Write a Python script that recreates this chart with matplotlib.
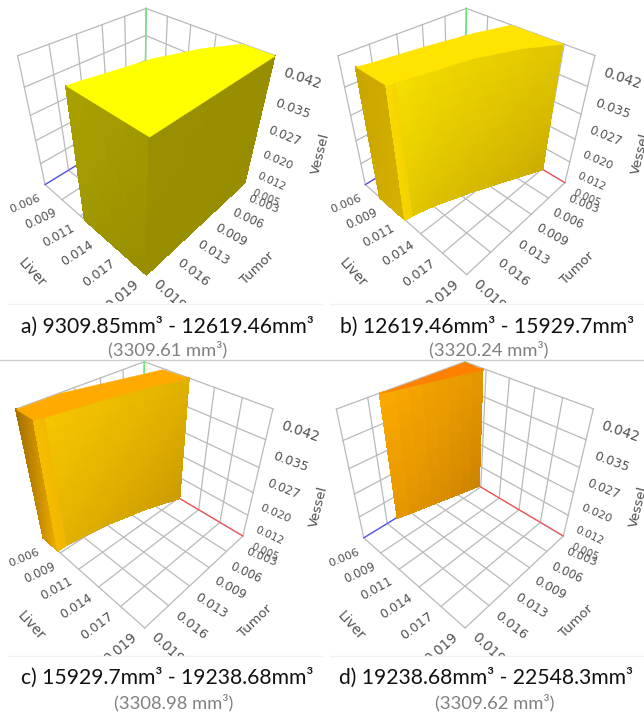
# Four views of the same liver / tumor / vessel space, one volume band per panel
import numpy as np
import matplotlib
matplotlib.use("Agg")
import matplotlib.pyplot as plt
from matplotlib.transforms import Bbox
from mpl_toolkits.mplot3d import proj3d
from mpl_toolkits.mplot3d.art3d import Poly3DCollection

W, H = 644, 715

liver_ticks = [0.0063, 0.00886, 0.01142, 0.01398, 0.01654, 0.0191]
tumor_ticks = [0.0031, 0.0063, 0.0094, 0.0126, 0.0157, 0.0189]
vessel_ticks = [0.005, 0.0124, 0.0198, 0.0272, 0.0346, 0.042]

# iso-volume curves (top at vessel max, floor at vessel min)
c1_top_liver = [0.0119, 0.0120, 0.0125, 0.0132, 0.0147, 0.0164]
c1_top_tumor = [0.0189, 0.0180, 0.0152, 0.0111, 0.0065, 0.0031]
c1_floor_liver = [0.0120, 0.0121, 0.0126, 0.0138, 0.0152, 0.0166]
c1_floor_tumor = [0.0189, 0.0179, 0.0155, 0.0114, 0.0072, 0.0031]
c2_top_liver = [0.0085, 0.0087, 0.0094, 0.0103, 0.0114]
c2_top_tumor = [0.0189, 0.0179, 0.0127, 0.0074, 0.0031]
c2_floor_liver = [0.0085, 0.0085, 0.0091, 0.0102, 0.0115]
c2_floor_tumor = [0.0189, 0.0176, 0.0127, 0.0074, 0.0031]
c3_top_liver = [0.0063, 0.0086]
c3_top_tumor = [0.0144, 0.0033]
c3_floor_liver = [0.0064, 0.0086]
c3_floor_tumor = [0.0143, 0.0031]

captions = ["a) 9309.85mm³ - 12619.46mm³", "b) 12619.46mm³ - 15929.7mm³",
            "c) 15929.7mm³ - 19238.68mm³", "d) 19238.68mm³ - 22548.3mm³"]
subcaptions = ["(3309.61 mm³)", "(3320.24 mm³)", "(3308.98 mm³)", "(3309.62 mm³)"]

# panel layout in pixels
offsets = [(0, 0), (320.3, 0), (-1.7, 353.3), (318.7, 353.3)]
clip_bottom = [303, 303, 656, 656]
caption_xy = [(167, 327), (487, 327), (167, 678), (486, 678)]
sub_xy = [(168, 350), (489, 350), (174, 703), (495, 703)]

S = 420
GRID = "#b9b9b9"
TEXT = "#505050"

fig = plt.figure(figsize=(W / 100, H / 100), dpi=100, facecolor="white")
zlo, zhi = vessel_ticks[0], vessel_ticks[-1]
lmin, lmax = liver_ticks[0], liver_ticks[-1]
tmin, tmax = tumor_ticks[0], tumor_ticks[-1]


def make_axes(dx, dy):
    ax = fig.add_axes([(140.55 + dx - S / 2) / W, 1 - (133.37 + dy + S / 2) / H, S / W, S / H],
                      projection="3d", computed_zorder=False)
    ax.set_xlim(tmin, tmax)
    ax.set_ylim(lmin, lmax)
    ax.set_zlim(zlo, zhi)
    ax.view_init(elev=37.683, azim=43.5994, roll=-0.7706)
    ax.set_proj_type("persp", focal_length=0.1702)
    ax.set_box_aspect((1, 0.9861, 0.9948), zoom=0.6365)
    ax.set_axis_off()
    ax.patch.set_visible(False)
    return ax


def draw_grid(ax):
    for t in tumor_ticks:
        ax.plot([t, t], [lmin, lmax], [zlo, zlo], color=GRID, lw=0.9, zorder=1)
        ax.plot([t, t], [lmin, lmin], [zlo, zhi], color=GRID, lw=0.9, zorder=1)
    for l in liver_ticks:
        ax.plot([tmin, tmax], [l, l], [zlo, zlo], color=GRID, lw=0.9, zorder=1)
        ax.plot([tmin, tmin], [l, l], [zlo, zhi], color=GRID, lw=0.9, zorder=1)
    for z in vessel_ticks:
        ax.plot([tmin, tmax], [lmin, lmin], [z, z], color=GRID, lw=0.9, zorder=1)
        ax.plot([tmin, tmin], [lmin, lmax], [z, z], color=GRID, lw=0.9, zorder=1)
    ax.plot([tmin, tmin], [lmin, lmin], [zlo, zhi], color="#66ee77", lw=1, zorder=2)
    ax.plot([tmin, tmax], [lmin, lmin], [zlo, zlo], color="#4a4aff", lw=0.8, zorder=2)
    ax.plot([tmin, tmin], [lmin, lmax], [zlo, zlo], color="#ff4a4a", lw=0.8, zorder=2)


def put_label(ax, t, l, z, s, size, rot, clip):
    # Text3D ignores rotation, so project the anchor and place a plain 2D text
    xs, ys, _ = proj3d.proj_transform(t, l, z, ax.get_proj())
    txt = ax.text2D(xs, ys, s, transform=ax.transData, fontsize=size, rotation=rot, color=TEXT,
                    ha="center", va="center", rotation_mode="anchor")
    txt.set_clip_path(None)
    txt.set_clip_box(clip)
    txt.set_clip_on(True)


def draw_labels(ax, clip):
    sizes = [8.2, 8.4, 8.7, 9.0, 9.4, 9.8]
    liver_rot = [23, 25, 29, 33, 37, 41]
    tumor_rot = [-22, -25, -29, -33, -38, -43]
    vessel_sizes = [7.4, 7.6, 8.2, 8.6, 9.2, 10]
    vessel_rot = [-24, -25, -23, -22, -20, -19]
    vessel_drop = [0.0010, 0.0024, 0.0026, 0.0026, 0.0026, 0.0026]
    n = len(liver_ticks) - 1
    for i, (l, s, r) in enumerate(zip(liver_ticks, sizes, liver_rot)):
        put_label(ax, tmax + 0.0027 + 0.0002 * i / n, l, zlo - 0.0025 + 0.0034 * i / n, f"{l:.3f}", s, r, clip)
    for i, (t, s, r) in enumerate(zip(tumor_ticks, sizes, tumor_rot)):
        put_label(ax, t, lmax + 0.0022, zlo - 0.0035 + 0.0035 * i / n, f"{t:.3f}", s, r, clip)
    for z, s, r, d in zip(vessel_ticks, vessel_sizes, vessel_rot, vessel_drop):
        put_label(ax, tmin, lmax + 0.0023, z - d, f"{z:.3f}", s, r, clip)
    put_label(ax, tmax + 0.0068, 0.0127, zlo - 0.0015, "Liver", 9.8, -48, clip)
    put_label(ax, 0.011, lmax + 0.0054, zlo - 0.0015, "Tumor", 9.5, 44, clip)
    put_label(ax, tmin, lmax + 0.0052, 0.0245, "Vessel", 9.5, 76, clip)


def draw_wall(ax, top_l, top_t, floor_l, floor_t, c0, c1, zorder=3, nu=8, nv=12):
    # vertical strip between a top curve and a floor curve, shaded from c0 to c1
    c0 = np.array(c0) / 255
    c1 = np.array(c1) / 255
    polys, cols = [], []
    segs = len(top_l) - 1
    for i in range(segs):
        for a in range(nu):
            u0, u1 = a / nu, (a + 1) / nu
            tl0 = top_l[i] + (top_l[i + 1] - top_l[i]) * u0
            tl1 = top_l[i] + (top_l[i + 1] - top_l[i]) * u1
            tt0 = top_t[i] + (top_t[i + 1] - top_t[i]) * u0
            tt1 = top_t[i] + (top_t[i + 1] - top_t[i]) * u1
            fl0 = floor_l[i] + (floor_l[i + 1] - floor_l[i]) * u0
            fl1 = floor_l[i] + (floor_l[i + 1] - floor_l[i]) * u1
            ft0 = floor_t[i] + (floor_t[i + 1] - floor_t[i]) * u0
            ft1 = floor_t[i] + (floor_t[i + 1] - floor_t[i]) * u1
            for b in range(nv):
                v0, v1 = b / nv, (b + 1) / nv
                polys.append([
                    (tt0 + (ft0 - tt0) * v0, tl0 + (fl0 - tl0) * v0, zhi + (zlo - zhi) * v0),
                    (tt1 + (ft1 - tt1) * v0, tl1 + (fl1 - tl1) * v0, zhi + (zlo - zhi) * v0),
                    (tt1 + (ft1 - tt1) * v1, tl1 + (fl1 - tl1) * v1, zhi + (zlo - zhi) * v1),
                    (tt0 + (ft0 - tt0) * v1, tl0 + (fl0 - tl0) * v1, zhi + (zlo - zhi) * v1),
                ])
                w = ((i + (a + 0.5) / nu) / segs + (b + 0.5) / nv) / 2
                cols.append(c0 + (c1 - c0) * w)
    pc = Poly3DCollection(polys, facecolors=cols, edgecolors=cols, linewidths=0.6, zorder=zorder,
                          antialiased=False)
    ax.add_collection3d(pc, autolim=False)


def draw_top(ax, liver_pts, tumor_pts, color, zorder=4):
    verts = [list(zip(tumor_pts, liver_pts, [zhi] * len(liver_pts)))]
    pc = Poly3DCollection(verts, facecolors=color, edgecolors=color, linewidths=0.4, zorder=zorder)
    ax.add_collection3d(pc, autolim=False)


axes = [make_axes(*o) for o in offsets]
for ax, o, cb in zip(axes, offsets, clip_bottom):
    draw_grid(ax)
    draw_labels(ax, Bbox([[o[0] - 20, H - cb], [o[0] + 400, H]]))

# a) front corner of the cube
ax = axes[0]
draw_wall(ax, [c1_top_liver[0], lmax], [tmax, tmax], [c1_floor_liver[0], lmax], [tmax, tmax],
          (170, 162, 0), (150, 142, 0))
draw_wall(ax, [lmax, lmax], [tmax, tmin], [lmax, lmax], [tmax, tmin], (152, 144, 0), (150, 142, 0))
draw_top(ax, c1_top_liver + [lmax, lmax], c1_top_tumor + [tmin, tmax], "#ffff00")

# b)
ax = axes[1]
draw_wall(ax, [c2_top_liver[0], c1_top_liver[0]], [tmax, tmax],
          [c2_floor_liver[0], c1_floor_liver[0]], [tmax, tmax], (200, 165, 0), (215, 178, 0))
draw_wall(ax, c1_top_liver[:2], c1_top_tumor[:2], c1_floor_liver[:2], c1_floor_tumor[:2],
          (250, 218, 0), (240, 205, 0))
draw_wall(ax, c1_top_liver[1:], c1_top_tumor[1:], c1_floor_liver[1:], c1_floor_tumor[1:],
          (245, 222, 0), (203, 172, 0))
draw_top(ax, c2_top_liver + c1_top_liver[::-1], c2_top_tumor + c1_top_tumor[::-1], "#ffe400")

# c)
ax = axes[2]
draw_wall(ax, [lmin, c2_top_liver[0]], [tmax, tmax], [lmin, c2_floor_liver[0]], [tmax, tmax],
          (165, 110, 0), (238, 172, 0))
draw_wall(ax, c2_top_liver[:2], c2_top_tumor[:2], c2_floor_liver[:2], c2_floor_tumor[:2],
          (245, 190, 0), (240, 180, 0))
draw_wall(ax, c2_top_liver[1:], c2_top_tumor[1:], c2_floor_liver[1:], c2_floor_tumor[1:],
          (245, 197, 0), (203, 155, 0))
draw_top(ax, [lmin] + c3_top_liver + c2_top_liver[::-1], [tmax] + c3_top_tumor + c2_top_tumor[::-1], "#ffaa00")

# d)
ax = axes[3]
draw_wall(ax, c3_top_liver, c3_top_tumor, c3_floor_liver, c3_floor_tumor, (250, 170, 0), (205, 130, 0))
draw_top(ax, c3_top_liver + [lmin], c3_top_tumor + [tmin], "#ff8000")

for cap, sub, cxy, sxy in zip(captions, subcaptions, caption_xy, sub_xy):
    fig.text(cxy[0] / W, 1 - cxy[1] / H, cap, fontsize=15.2, family="Lato", color="#111111",
             ha="center", va="center")
    fig.text(sxy[0] / W, 1 - sxy[1] / H, sub, fontsize=13.2, family="Lato", color="#808080",
             ha="center", va="center")

# panel separators
fig.add_artist(plt.Line2D([0, 1], [1 - 360 / H] * 2, color="#cccccc", lw=1))
fig.add_artist(plt.Line2D([8 / W, 322 / W], [1 - 304 / H] * 2, color="#f0f0f0", lw=1))
fig.add_artist(plt.Line2D([330 / W, 644 / W], [1 - 304 / H] * 2, color="#f0f0f0", lw=1))
fig.add_artist(plt.Line2D([8 / W, 322 / W], [1 - 656 / H] * 2, color="#f0f0f0", lw=1))
fig.add_artist(plt.Line2D([330 / W, 644 / W], [1 - 656 / H] * 2, color="#f0f0f0", lw=1))

fig.savefig("out.png", dpi=100)
